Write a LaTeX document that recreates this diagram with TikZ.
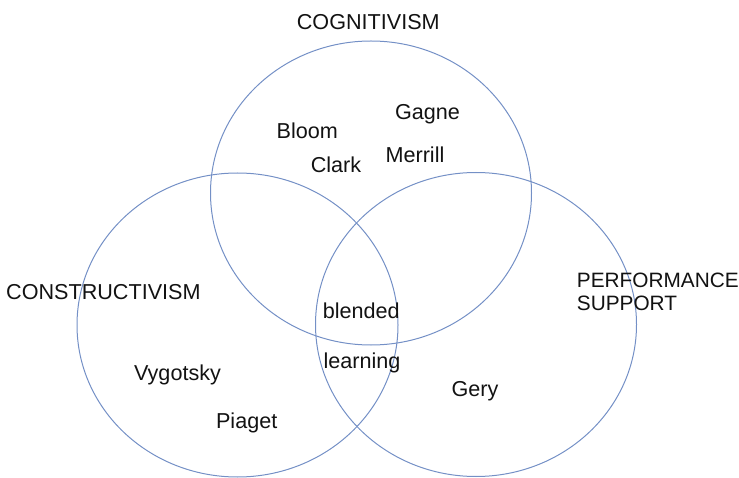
\documentclass[tikz,border=0pt]{standalone}
\usepackage{fontspec}
\setmainfont{Liberation Sans}
\usetikzlibrary{shapes.geometric}
\definecolor{ringblue}{RGB}{116,144,198}
\definecolor{ink}{RGB}{18,18,18}
\begin{document}
\begin{tikzpicture}[x=1pt,y=-1pt,
  ring/.style={draw=ringblue, line width=1pt, ellipse, inner sep=0pt, outer sep=0pt,
               minimum width=321pt, minimum height=304pt},
  lbl/.style={text=ink, inner sep=0pt, font=\fontsize{21.6}{24}\selectfont},
  person/.style={lbl, anchor=base},
  heading/.style={lbl, anchor=base west},
  edgeheading/.style={heading, font=\fontsize{20.8}{23}\selectfont}]
  \useasboundingbox (0,0) rectangle (739,478);
  % the three overlapping rings
  \node[ring] (cog) at (371,193) {};
  \node[ring] (con) at (237.5,325) {};
  \node[ring] (perf) at (476,324.5) {};
  % field headings
  \node[person] (hcog) at (368.3,30) {COGNITIVISM};
  \node[heading] (hcon) at (6,300) {CONSTRUCTIVISM};
  \node[edgeheading] (hperf1) at (576.7,288) {PERFORMANCE};
  \node[edgeheading] (hperf2) at (576.7,310.5) {SUPPORT};
  % theorists
  \node[person] (bloom) at (307.3,138.3) {Bloom};
  \node[person] (gagne) at (427.5,120) {Gagne};
  \node[person] (clark) at (336,172.5) {Clark};
  \node[person] (merrill) at (415,162.5) {Merrill};
  \node[person] (vyg) at (177.5,380) {Vygotsky};
  \node[person] (piaget) at (246.7,428.3) {Piaget};
  \node[person] (gery) at (475,396.7) {Gery};
  % centre
  \node[person] (blend) at (361.3,318.3) {blended};
  \node[person] (learn) at (362,368.3) {learning};
\end{tikzpicture}
\end{document}
